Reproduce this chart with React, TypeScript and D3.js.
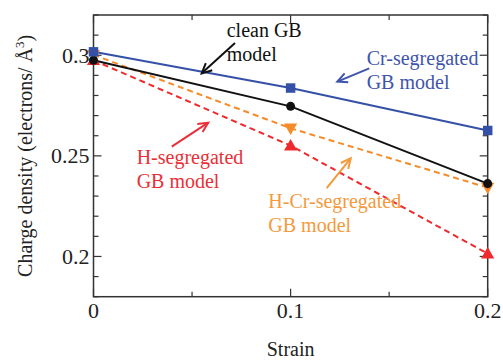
import React from "react";
import * as d3 from "d3";

const strain = [0, 0.1, 0.2];
const cleanGB = [0.2975, 0.2746, 0.2362];
const crSeg = [0.3017, 0.2837, 0.2626];
const hCrSeg = [0.3002, 0.2637, 0.2342];
const hSeg = [0.2975, 0.2551, 0.2014];
const xTickLabels = ["0", "0.1", "0.2"];
const yTickLabels = ["0.2", "0.25", "0.3"];

const W = 503, H = 361;
const x = d3.scaleLinear().domain([0, 0.2]).range([93.5, 487.7]);
const y = d3.scaleLinear().domain([0.18, 0.32]).range([296.7, 15]);

type Series = { name: string; values: number[]; color: string; dash?: string; symbol: any; rotate?: number; size: number };
const series: Series[] = [
  { name: "H", values: hSeg, color: "#ee2a2e", dash: "6,4", symbol: d3.symbolTriangle, size: 75 },
  { name: "HCr", values: hCrSeg, color: "#f68b2a", dash: "6,4", symbol: d3.symbolTriangle, rotate: 180, size: 75 },
  { name: "clean", values: cleanGB, color: "#111111", symbol: d3.symbolCircle, size: 64 },
  { name: "Cr", values: crSeg, color: "#3451a7", symbol: d3.symbolSquare, size: 90 },
];

type Ann = { lines: string[]; tx: number; ty: number; color: string; a: [number, number, number, number] };
const annotations: Ann[] = [
  { lines: ["clean GB", "model"], tx: 0.0676, ty: 0.3092, color: "#111111", a: [0.0718, 0.3061, 0.0549, 0.291] },
  { lines: ["Cr-segregated", "GB model"], tx: 0.1386, ty: 0.2952, color: "#3f55ab", a: [0.1399, 0.2935, 0.1237, 0.2869] },
  { lines: ["H-segregated", "GB model"], tx: 0.0219, ty: 0.246, color: "#ea2f38", a: [0.0397, 0.2546, 0.0582, 0.2665] },
  { lines: ["H-Cr-segregated", "GB model"], tx: 0.0887, ty: 0.2239, color: "#f49a3c", a: [0.1183, 0.2339, 0.1305, 0.2488] },
];

const FONT = "Liberation Serif, Times New Roman, serif";
const AX = "#333333";

function Arrow({ x1, y1, x2, y2, color }: { x1: number; y1: number; x2: number; y2: number; color: string }) {
  const ang = Math.atan2(y2 - y1, x2 - x1);
  const L = 11, spread = Math.PI / 7;
  const p1 = [x2 - L * Math.cos(ang - spread), y2 - L * Math.sin(ang - spread)];
  const p2 = [x2 - L * Math.cos(ang + spread), y2 - L * Math.sin(ang + spread)];
  return (
    <g stroke={color} strokeWidth={2} fill="none" strokeLinecap="butt">
      <line x1={x1} y1={y1} x2={x2} y2={y2} />
      <polyline points={`${p1[0]},${p1[1]} ${x2},${y2} ${p2[0]},${p2[1]}`} />
    </g>
  );
}

export default function App() {
  const line = d3.line<number>().x((_, i) => x(strain[i])).y((v) => y(v));
  const [x0, x1] = x.range();
  const [yb, yt] = y.range();
  const yMinor = y.ticks(14);
  const yMajor = y.ticks(3);
  const xMinor = x.ticks(4);
  const xMajor = x.ticks(2);
  const isMajor = (arr: number[], v: number) => arr.some((m) => Math.abs(m - v) < 1e-9);
  return (
    <svg width={W} height={H} style={{ position: "absolute", left: 0, top: 0, background: "#fff" }} fontFamily={FONT}>
      <rect x={0} y={0} width={W} height={H} fill="#fff" />
      {series.map((s) => (
        <path key={s.name} d={line(s.values) || ""} fill="none" stroke={s.color} strokeWidth={2} strokeDasharray={s.dash} />
      ))}
      <rect x={x0} y={yt} width={x1 - x0} height={yb - yt} fill="none" stroke={AX} strokeWidth={1.5} />
      {yMinor.map((v) => {
        const len = isMajor(yMajor, v) ? 8 : 5;
        return (
          <g key={"y" + v} stroke={AX} strokeWidth={1.2}>
            <line x1={x0} x2={x0 + len} y1={y(v)} y2={y(v)} />
            <line x1={x1} x2={x1 - len} y1={y(v)} y2={y(v)} />
          </g>
        );
      })}
      {xMinor.map((v) => {
        const len = isMajor(xMajor, v) ? 8 : 5;
        return (
          <g key={"x" + v} stroke={AX} strokeWidth={1.2}>
            <line x1={x(v)} x2={x(v)} y1={yb} y2={yb - len} />
            <line x1={x(v)} x2={x(v)} y1={yt} y2={yt + len} />
          </g>
        );
      })}
      {yMajor.map((v, i) => (
        <text key={"yl" + v} x={x0 - 4} y={y(v)} dy="0.34em" textAnchor="end" fontSize={22} fill="#222" fontFamily={FONT}>
          {yTickLabels[i]}
        </text>
      ))}
      {xMajor.map((v, i) => (
        <text key={"xl" + v} x={x(v)} y={yb + 21} textAnchor="middle" fontSize={22} fill="#222" fontFamily={FONT}>
          {xTickLabels[i]}
        </text>
      ))}
      <text x={x(0.1)} y={356} textAnchor="middle" fontSize={20} fill="#222" fontFamily={FONT}>Strain</text>
      <text transform={`translate(32,${(yb + yt) / 2}) rotate(-90)`} textAnchor="middle" fontSize={20} fill="#222" fontFamily={FONT}>
        Charge density (electrons/ Å<tspan dy={-8} fontSize={13}>3</tspan><tspan dy={8}>)</tspan>
      </text>
      {series.map((s) =>
        s.values.map((v, i) => (
          <path
            key={s.name + i}
            d={d3.symbol().type(s.symbol).size(s.size)() || ""}
            transform={`translate(${x(strain[i])},${y(v) + (s.symbol === d3.symbolTriangle ? (s.rotate ? -1 : 1) : 0)}) rotate(${s.rotate || 0})`}
            fill={s.color}
          />
        ))
      )}
      {annotations.map((a) => (
        <g key={a.lines[0]}>
          <Arrow x1={x(a.a[0])} y1={y(a.a[1])} x2={x(a.a[2])} y2={y(a.a[3])} color={a.color} />
          {a.lines.map((t, i) => (
            <text key={t} x={x(a.tx)} y={y(a.ty) + i * 24} fontSize={20} fill={a.color} fontFamily={FONT}>
              {t}
            </text>
          ))}
        </g>
      ))}
    </svg>
  );
}
